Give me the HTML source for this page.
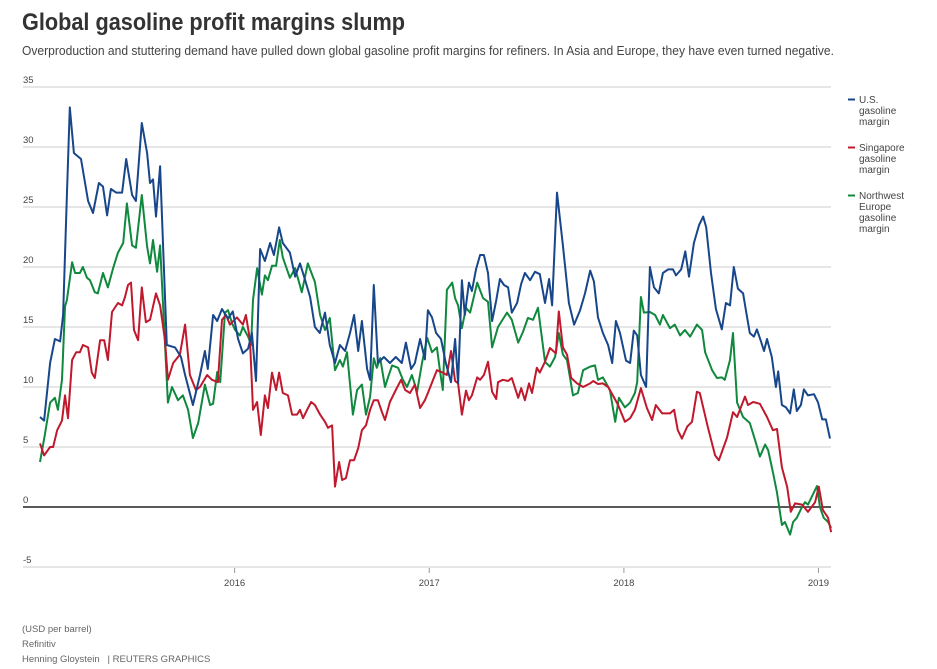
<!DOCTYPE html>
<html><head><meta charset="utf-8"><style>
html,body{margin:0;padding:0;background:#fff;}
svg{display:block;font-family:"Liberation Sans",sans-serif;}
</style></head><body>
<svg id="chart" width="937" height="669" viewBox="0 0 937 669">
<text x="22" y="30" font-size="24" font-weight="bold" fill="#333" textLength="383" lengthAdjust="spacingAndGlyphs">Global gasoline profit margins slump</text>
<text x="22" y="55" font-size="12.5" fill="#444" textLength="812" lengthAdjust="spacingAndGlyphs">Overproduction and stuttering demand have pulled down global gasoline profit margins for refiners. In Asia and Europe, they have even turned negative.</text>
<g id="grid"></g>
<g id="yticks"></g>
<g id="xticks"></g>
<g id="lines"></g>
<g font-size="10" fill="#444">
 <g>
  <rect x="848" y="98.5" width="7" height="2" fill="#17468a"/>
  <text x="859" y="103">U.S.</text><text x="859" y="114">gasoline</text><text x="859" y="125">margin</text>
 </g>
 <g>
  <rect x="848" y="146.5" width="7" height="2" fill="#c0182c"/>
  <text x="859" y="151">Singapore</text><text x="859" y="162">gasoline</text><text x="859" y="173">margin</text>
 </g>
 <g>
  <rect x="848" y="194.5" width="7" height="2" fill="#10883e"/>
  <text x="859" y="199">Northwest</text><text x="859" y="210">Europe</text><text x="859" y="221">gasoline</text><text x="859" y="232">margin</text>
 </g>
</g>
<g font-size="9.5" fill="#666">
 <text x="22" y="632">(USD per barrel)</text>
 <text x="22" y="647">Refinitiv</text>
 <text x="22" y="662">Henning Gloystein &#160;&#160;| REUTERS GRAPHICS</text>
</g>
</svg>
<script>
// weeks since 2015-01-01
const yTicks = [35,30,25,20,15,10,5,0,-5];
const yearLabels = ["2016","2017","2018","2019"];
const yearWeeks = [52.18,104.36,156.54,208.7];
const usWeeks = [0,1.1,2.7,4,5.4,6.2,7.2,8,9.1,11,12.9,14.2,15.8,16.9,18,19,20.4,22,23.1,24.7,25.7,27.3,28.7,29.5,30.3,31.1,32.2,34,36.2,37.8,38.9,41,42.9,44.2,45,46.4,47.5,48.8,50.4,51.7,53.1,54.4,55.8,56.8,57.9,59,60.3,61.7,62.7,64.1,65.1,67,68.4,69.7,71,72.4,73.7,75,76.4,77.7,79.1,80.4,81.8,83.1,84.2,85.3,86.3,87.7,88.5,89.5,90.6,92.2,93.8,95.4,97,98.1,99.5,100.5,101.9,103.2,104,105.1,106.2,107.5,108.8,110.2,111.3,112.1,113.1,113.9,115,115.8,116.9,118,119,120.1,121.2,122.3,123.3,124.4,125.5,126.5,127.9,129,130,131.4,132.7,134,135.4,136.5,137.3,138.6,140.2,141.8,143.2,144.8,146.1,147.5,148.5,149.6,150.9,152.3,153.4,154.4,155.5,157.1,158.2,159.2,160.1,161.1,162.5,163.5,164.6,165.9,167,168.4,169.7,170.5,171.9,173,174,175.3,176.7,177.8,178.6,179.9,181.2,182.8,183.9,185,186,187.1,188.5,189.3,190.3,191.4,192.2,193.3,194.1,194.9,196.2,197.3,197.9,198.9,200,201.1,202.1,202.9,204,204.8,205.9,207.5,208.6,209.7,210.7,211.8];
const usValues = [7.5,7.2,12,14,13.8,16,26,33.3,29.5,29,25.5,24.5,27,26.7,24.3,26.5,26.2,26.2,29,26,25.5,32,29.5,27,27.3,24.2,28.4,13.5,13.3,12.5,11,8.5,11,13,11.5,16,15.5,16.5,15.7,16.3,14,12.8,13.2,14.5,10.5,21.5,20.5,22,21,23.3,22,21.2,19.2,20.3,19,17.5,15,14.5,16.2,13.5,12,13.5,13,14.5,16,13,15.5,11.5,10.6,18.5,12,12.5,12,12.5,12,13.7,11.5,12,14,12.3,16.4,15.8,14.5,14,12,10.4,14,10.3,18.9,16,18.7,18,19.8,21,21,19.5,15.5,17.2,19,18.5,18.3,16.2,17,18.6,19.5,18.9,19.6,19.4,17,19,16.8,26.2,21.8,17,15.2,16.4,17.8,19.7,18.8,15.8,14.5,13.5,12,15.5,14.5,12.2,12,14.7,14.3,11,10,20,18.3,17.8,19.5,19.8,19.8,19.3,19.8,21.3,19.2,22,23.5,24.2,23.3,19.5,16.5,14.8,17,16.8,20,18.2,17.8,16.3,14.5,14.2,14.8,13.8,13,14,12.5,10,11.3,8.5,8.3,7.8,9.8,8,8.5,9.8,9.3,9.4,8.7,7.3,7.3,5.7];
const sgWeeks = [0,1.1,2.7,3.5,4.6,5.9,6.7,7.5,8.6,9.7,10.7,11.5,12.9,13.9,14.7,16.1,17.2,18.2,19.3,20.9,22,22.8,23.6,24.4,25.2,26.3,27.3,28.4,29.5,31.1,32.2,33.5,34.3,35.7,37.5,38.9,40.2,41.8,42.9,44.8,46.1,47.7,48.8,49.9,50.9,52.8,54.4,55.2,56.3,57.1,58.2,59.2,60.3,61.1,62.2,63.3,64.1,65.1,66.5,67.6,68.9,69.7,70.5,71.6,72.7,73.7,75.1,76.4,77.2,78.3,79.1,80.2,81,82,83.1,84.2,85.3,86.3,87.4,88.5,89.5,90.6,91.7,92.5,93.8,95.4,96.8,97.9,99.2,100.5,101.9,103.2,104,105.4,106.4,108,109.1,110.2,111.3,112.1,113.1,114.2,115,115.8,117.2,118,119,120.1,121.2,122.3,122.8,124.1,125.5,126.5,128.2,129,130,131.1,131.9,133.2,134,135.4,136.7,138.3,139.1,140.2,141.3,142.4,144,145.6,147.5,148.3,149.6,150.9,152.3,153.6,155,156.8,158.2,159.5,161.1,162.7,164.1,165.1,166.8,168.9,170,171,172.1,173.5,174.8,176.1,176.9,179.1,181,182,184.2,185.8,186.9,189,189.8,191.2,193,194.9,196.5,197.6,198.9,200.3,201.3,202.4,204.3,205.9,207.8,208.8,209.9,211.3,212.1];
const sgValues = [5.3,4.3,5,5,6.4,7.2,9.3,7.4,12.25,12.9,12.9,13.5,13.3,11.2,10.75,13.9,13.9,12.25,16.25,17,16.8,17.5,18.5,18.7,14.75,13.9,18.3,15.4,15.6,17.8,16.8,13.9,10.6,12,12.7,15.2,11,9.75,10,11,10.6,10.4,15.6,16,15.2,15.8,15.2,16,13.9,8.1,8.75,6,9.3,8.25,11.2,9.75,11.2,9.5,9.3,7.7,7.7,8.1,7.4,8.1,8.75,8.5,7.7,7.1,6.6,6.8,1.7,3.75,2.25,2.4,3.9,3.9,4.9,6.4,6.8,8.1,8.9,8.9,7.9,7.25,8.75,9.75,10.6,9.75,9.5,10.2,8.25,8.9,9.5,10.6,11.4,11.2,11,13,10.5,10.3,7.7,9.7,8.9,9.3,10.8,10.6,11,12.1,9.6,9,10.4,10.6,10.5,10.75,9.1,9.9,8.9,10.3,9.5,11.6,11.2,12.1,13.25,12.8,16.3,13.3,12.7,10.75,10.3,10,10.3,10.5,10.25,10.3,10,9.3,8.5,7.1,7.4,8.1,9.9,8.25,7.25,8.5,7.8,7.8,8.1,6.4,5.7,6.7,7.1,9.6,9.5,6.6,4.3,3.9,5.8,7.9,7.5,9.2,8.5,8.75,8.6,7.5,6.4,6.5,3.3,1.7,-0.4,0.3,0.2,-0.4,0.4,1.7,-0.25,-0.9,-2.1];
const euWeeks = [0,1.3,2.7,4,4.8,5.9,6.7,7.2,8.6,9.4,10.7,11.5,12.6,13.4,14.7,15.5,16.9,18.2,19.6,20.9,22.3,23.3,24.7,25.7,27.3,28.7,29.5,30.3,31.4,32.2,34.3,35.4,37,38.3,39.7,41,42.4,44.2,45.6,46.4,47.5,48.3,49.6,50.4,51.5,52.3,53.6,54.4,55.8,56.6,57.1,58.2,59.5,60.3,61.1,62.2,63.3,64.3,65.1,67,68.4,70.2,71.8,73.7,75.1,76.4,77.7,79.1,80.4,81.2,82.3,83.9,85,86.3,87.4,88.5,89.5,90.3,91.2,92.5,93.3,94.4,96,97.3,98.4,99.7,101.1,102.4,103.8,105.1,106.4,107.2,108,109.1,110.5,111.3,112.1,113.1,114.2,115.3,117.2,118.8,120.1,121.2,122.8,125.2,126.5,128.2,129.5,130.8,132.2,133.5,135.4,136.7,138.1,139.1,140.2,141.3,142.9,144.2,145.6,147.5,148.8,149.6,150.9,152.8,154.2,155.2,156.8,158.2,159.5,160.1,161.1,161.9,163.5,164.9,166.2,167,168.9,170.2,171.6,172.9,174.3,176.1,177.5,178.3,180.2,181.5,182.8,183.6,185,185.8,186.9,188.5,190.3,191.7,193,194.4,195.2,196.5,197.6,198.9,199.7,201.1,201.9,202.9,204.3,205.1,205.9,208.3,209.1,210.1,211.3,212.1];
const euValues = [3.75,6,8.7,9.1,8.1,10.6,16.7,17.25,20.4,19.5,19.5,20,19.1,18.9,17.9,17.8,19.5,18.3,19.9,21.2,22,25.3,21.8,21.6,26,21.7,20.3,22.25,19.6,21.8,8.7,10,8.9,9.3,8.1,5.75,7,10.2,8.5,8.6,11.25,10.4,16.2,16.4,15.3,14.75,14.3,15,14.2,13.5,17.25,19.9,17.7,19.3,18.9,20.1,20.1,22.25,20.8,19.1,19.9,17.9,20.3,18.75,16,14.75,15.75,11.4,12.25,11.7,12.9,7.7,9.75,10.2,7.7,9.2,12.4,11.6,12.4,10,10.8,11.8,11.6,10.6,10,11,9.6,12,14.1,12.9,13.3,11.4,9.75,18.1,18.7,17.4,16.8,14.9,16.6,16.2,18.7,17.4,17.1,13.3,15,16.2,15.6,13.7,14.6,15.75,15.6,16.6,12.1,11.7,12.5,14.5,12.7,12.25,9.3,9.5,11.4,11.7,11.8,10.6,10.8,9.75,7.1,9.1,8.3,8.7,9.5,10.4,17.5,16.2,16.25,16,15.2,16,14.9,15.2,14.3,14.75,14.2,15.2,14.75,12.9,11.4,10.75,10.8,10.6,12.25,14.5,8.7,7.5,7,5.6,4.2,5.2,4.75,2.9,1.2,-1.5,-1.25,-2.3,-1.25,-0.9,0,0.4,0.2,1.75,0,-0.9,-1.25,-1.75];

const NS='http://www.w3.org/2000/svg';
const X0=40, PXW=3.73, Y0=507, PXV=12;
function xScale(w){return X0+w*PXW;}
function yScale(v){return Y0-v*PXV;}
const grid=document.getElementById('grid'), yt=document.getElementById('yticks'), xt=document.getElementById('xticks'), lines=document.getElementById('lines');
yTicks.forEach(function(t){
  const l=document.createElementNS(NS,'line');
  
  
  l.setAttribute('x1',23);l.setAttribute('x2',831);
  l.setAttribute('y1',yScale(t));l.setAttribute('y2',yScale(t));
  l.setAttribute('stroke',t===0?'#222':'#d6d6d6');l.setAttribute('stroke-width',t===0?1.6:1.3);
  grid.appendChild(l);
  const tx=document.createElementNS(NS,'text');
  
  
  tx.setAttribute('x',23);tx.setAttribute('y',yScale(t)-4);
  tx.setAttribute('font-size','9.5');tx.setAttribute('fill','#444');
  tx.textContent=String(t);
  yt.appendChild(tx);
});
yearWeeks.forEach(function(w,i){
  const l=document.createElementNS(NS,'line');
  
  
  l.setAttribute('x1',xScale(w));l.setAttribute('x2',xScale(w));
  l.setAttribute('y1',568);l.setAttribute('y2',573);
  l.setAttribute('stroke','#999');
  xt.appendChild(l);
  const tx=document.createElementNS(NS,'text');
  
  
  tx.setAttribute('x',xScale(w));tx.setAttribute('y',586);
  tx.setAttribute('font-size','9.5');tx.setAttribute('fill','#444');tx.setAttribute('text-anchor','middle');
  tx.textContent=yearLabels[i];
  xt.appendChild(tx);
});
function drawLine(ws,vs,color,name){
  const p=document.createElementNS(NS,'path');
  let d='';
  for(let i=0;i<ws.length;i++){d+=(i?'L':'M')+xScale(ws[i]).toFixed(1)+','+yScale(vs[i]).toFixed(1);}
  p.setAttribute('d',d);
  p.setAttribute('fill','none');p.setAttribute('stroke',color);p.setAttribute('stroke-width','2');p.setAttribute('stroke-linejoin','round');
  
  
  lines.appendChild(p);
}
drawLine(euWeeks,euValues,'#10883e','nw-europe-margin-line');
drawLine(sgWeeks,sgValues,'#c0182c','singapore-margin-line');
drawLine(usWeeks,usValues,'#17468a','us-margin-line');
</script>
</body></html>
